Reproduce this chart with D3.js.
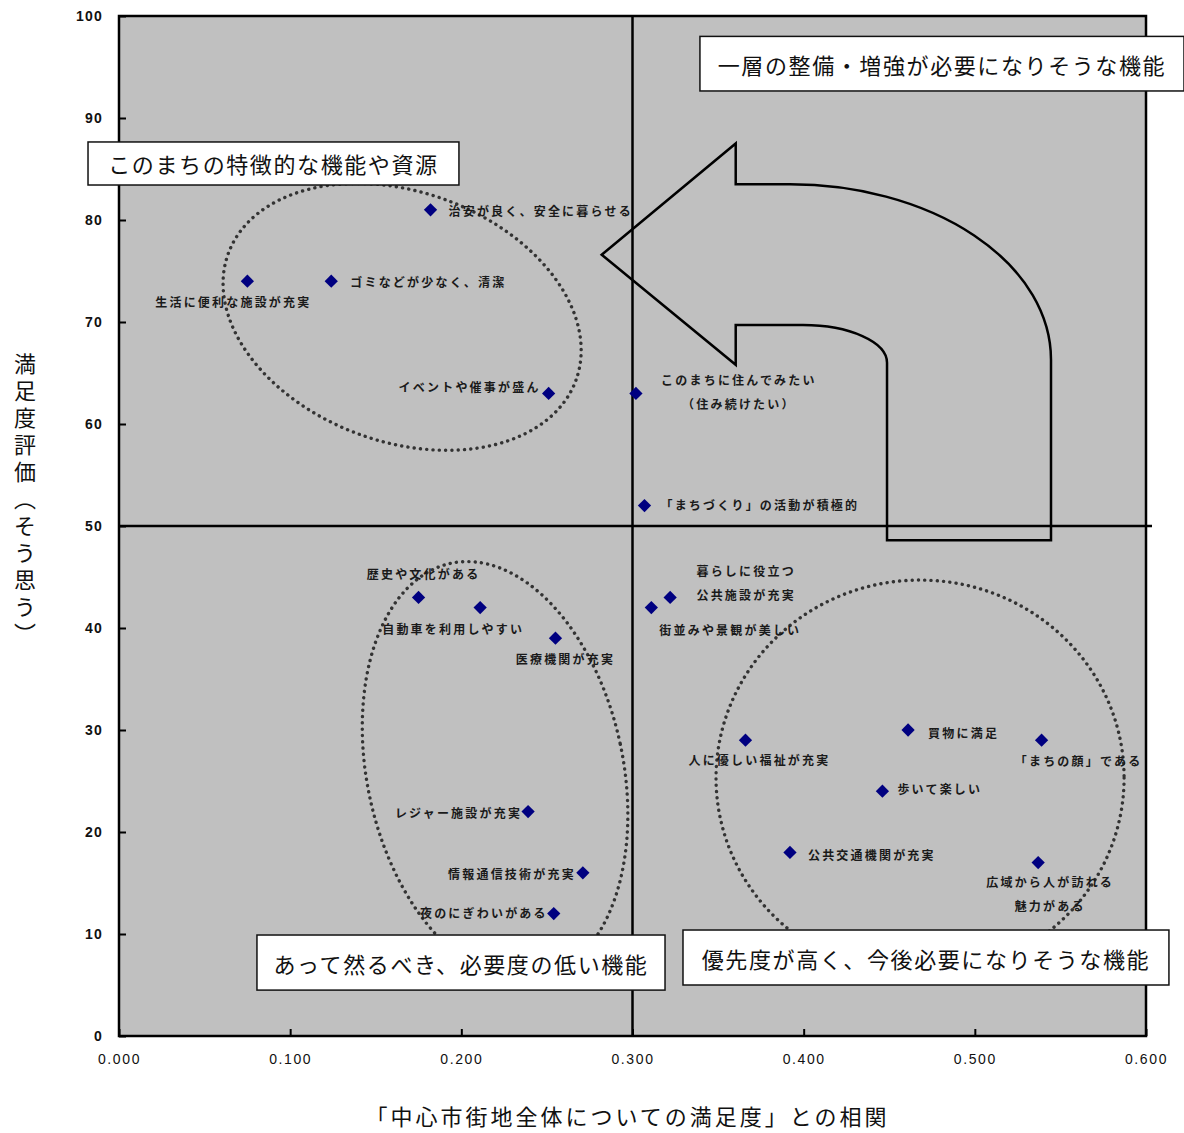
<!DOCTYPE html>
<html>
<head>
<meta charset="utf-8">
<script src="https://cdn.jsdelivr.net/npm/d3@7"></script>
<style>
    body { margin: 0; background: #fff; }
    svg { display: block; }
    .pt-label { font-family: "Noto Sans CJK JP", sans-serif; font-size: 12px; font-weight: bold; letter-spacing: 2.2px; fill: #1a1a1a; }
    .box-text { font-family: "Noto Sans CJK JP", sans-serif; font-size: 22px; letter-spacing: 1.6px; fill: #111; }
    .tick text { font-family: "Liberation Sans", Arial, sans-serif; fill: #111; }
</style>
</head>
<body>
<svg id="chart" width="1184" height="1133"></svg>
<script>
// Items and values
const items = [
    "治安が良く、安全に暮らせる",
    "生活に便利な施設が充実",
    "ゴミなどが少なく、清潔",
    "イベントや催事が盛ん",
    "このまちに住んでみたい\n（住み続けたい）",
    "「まちづくり」の活動が積極的",
    "歴史や文化がある",
    "自動車を利用しやすい",
    "医療機関が充実",
    "暮らしに役立つ\n公共施設が充実",
    "街並みや景観が美しい",
    "レジャー施設が充実",
    "情報通信技術が充実",
    "夜のにぎわいがある",
    "人に優しい福祉が充実",
    "買物に満足",
    "「まちの顔」である",
    "歩いて楽しい",
    "公共交通機関が充実",
    "広域から人が訪れる\n魅力がある"
];
const correlation = [0.182, 0.075, 0.124, 0.251, 0.302, 0.307, 0.175, 0.211, 0.255, 0.322,
                     0.311, 0.239, 0.271, 0.254, 0.366, 0.461, 0.539, 0.446, 0.392, 0.537];
const satisfaction = [81, 74, 74, 63, 63, 52, 43, 42, 39, 43,
                      42, 22, 16, 12, 29, 30, 29, 24, 18, 17];

const xTicks = [0, 0.1, 0.2, 0.3, 0.4, 0.5, 0.6];
const yTicks = [0, 10, 20, 30, 40, 50, 60, 70, 80, 90, 100];

const xTitle = "「中心市街地全体についての満足度」との相関";
const yTitle = "満足度評価（そう思う）";

// label placement: [dx, dy, anchor] in pixels from the point
const labelPlace = [
    [18, 0, "start"], [-14, 20, "middle"], [19, 0, "start"], [-8, -7, "end"],
    [103, -14, "middle"], [16, -2, "start"], [5, -24, "middle"], [-27, 20, "middle"],
    [10, 20, "middle"], [76, -27, "middle"], [79, 21, "middle"], [-6, 0, "end"],
    [-7, 0, "end"], [-6, -2, "end"], [14, 19, "middle"], [20, 2, "start"],
    [37, 20, "middle"], [15, -3, "start"], [18, 2, "start"], [12, 18, "middle"]
];

// dotted group ellipses (centre in data units, radii in data units, rotation deg)
const groups = [
    { cx: 0.1654, cy: 70.5, rx: 0.1081, ry: 12.25, rot: 20 },
    { cx: 0.2197, cy: 26.0, rx: 0.0748, ry: 20.8, rot: -12 },
    { cx: 0.468, cy: 25.3, rx: 0.1192, ry: 19.4, rot: 0 }
];

// quadrant captions (corners in data units)
const captions = [
    { text: "一層の整備・増強が必要になりそうな機能", x0: 0.3394, y0: 98.0, x1: 0.6222, y1: 92.65 },
    { text: "このまちの特徴的な機能や資源", x0: -0.0181, y0: 87.65, x1: 0.1986, y1: 83.43 },
    { text: "あって然るべき、必要度の低い機能", x0: 0.0806, y0: 9.9, x1: 0.319, y1: 4.5 },
    { text: "優先度が高く、今後必要になりそうな機能", x0: 0.3295, y0: 10.39, x1: 0.6134, y1: 5.0 }
];

const W = 1184, H = 1133;
const margin = { top: 16, right: 38, bottom: 97, left: 119 };

const svg = d3.select("#chart");
const x = d3.scaleLinear().domain([0, 0.6]).range([margin.left, W - margin.right]);
const y = d3.scaleLinear().domain([0, 100]).range([H - margin.bottom, margin.top]);

// Plot background
svg.append("rect")
    .attr("x", x(0)).attr("y", y(100))
    .attr("width", x(0.6) - x(0)).attr("height", y(0) - y(100))
    .attr("fill", "#c0c0c0");

// Quadrant dividers
svg.append("line")
    .attr("x1", x(0.3)).attr("x2", x(0.3))
    .attr("y1", y(100)).attr("y2", y(0))
    .attr("stroke", "#000").attr("stroke-width", 2.5);
svg.append("line")
    .attr("x1", x(0)).attr("x2", x(0.6) + 6)
    .attr("y1", y(50)).attr("y2", y(50))
    .attr("stroke", "#000").attr("stroke-width", 2.5);

// Group ellipses
svg.append("g").selectAll("ellipse")
    .data(groups)
    .join("ellipse")
    .attr("cx", 0).attr("cy", 0)
    .attr("rx", d => x(d.rx) - x(0))
    .attr("ry", d => y(0) - y(d.ry))
    .attr("transform", d => `translate(${x(d.cx)},${y(d.cy)}) rotate(${d.rot})`)
    .attr("fill", "none")
    .attr("stroke", "#333")
    .attr("stroke-width", 3.4)
    .attr("stroke-linecap", "round")
    .attr("stroke-dasharray", "0.1 6.2");

// Big curved arrow (upper right -> upper left)
function arrowPath() {
    const tip = [x(0.282), y(76.6)];
    const headX = x(0.3603);
    const outerY = y(83.5), innerY = y(69.7);
    const outerBendX = x(0.392), outerRightX = x(0.5445), outerBendY = y(66.3);
    const innerBendX = x(0.3996), innerRightX = x(0.4487), innerBendY = y(66.0);
    const bottomY = y(48.6);
    const orx = outerRightX - outerBendX, ory = outerBendY - outerY;
    const irx = innerRightX - innerBendX, iry = innerBendY - innerY;
    return [
        `M${tip[0]},${tip[1]}`,
        `L${headX},${y(87.5)}`,
        `L${headX},${outerY}`,
        `L${outerBendX},${outerY}`,
        `A${orx},${ory} 0 0 1 ${outerRightX},${outerBendY}`,
        `L${outerRightX},${bottomY}`,
        `L${innerRightX},${bottomY}`,
        `L${innerRightX},${innerBendY}`,
        `A${irx},${iry} 0 0 0 ${innerBendX},${innerY}`,
        `L${headX},${innerY}`,
        `L${headX},${y(65.8)}`,
        "Z"
    ].join(" ");
}
svg.append("path")
    .attr("d", arrowPath())
    .attr("fill", "none")
    .attr("stroke", "#000")
    .attr("stroke-width", 2.5)
    .attr("stroke-linejoin", "miter");

// Points
const points = items.map((name, i) => ({ name, cx: correlation[i], cy: satisfaction[i], place: labelPlace[i] }));
const diamond = d3.symbol().type(d3.symbolSquare).size(88);
svg.append("g").selectAll("path")
    .data(points)
    .join("path")
    .attr("d", diamond)
    .attr("transform", d => `translate(${x(d.cx)},${y(d.cy)}) rotate(45)`)
    .attr("fill", "#000080");

// Point labels
const labels = svg.append("g").selectAll("text")
    .data(points)
    .join("text")
    .attr("class", "pt-label")
    .attr("text-anchor", d => d.place[2])
    .attr("x", d => x(d.cx) + d.place[0])
    .attr("y", d => y(d.cy) + d.place[1])
    .attr("dominant-baseline", "central");
labels.selectAll("tspan")
    .data(d => d.name.split("\n").map((t, k) => ({ t, k, d })))
    .join("tspan")
    .attr("x", o => x(o.d.cx) + o.d.place[0])
    .attr("dy", o => o.k === 0 ? 0 : 24)
    .text(o => o.t);

// Plot frame
svg.append("rect")
    .attr("x", x(0)).attr("y", y(100))
    .attr("width", x(0.6) - x(0)).attr("height", y(0) - y(100))
    .attr("fill", "none")
    .attr("stroke", "#000").attr("stroke-width", 2.5);

// Axes with inward ticks
const yAxis = svg.append("g")
    .attr("transform", `translate(${x(0)},0)`)
    .call(d3.axisLeft(y).tickValues(yTicks).tickSize(-7).tickPadding(16).tickFormat(d3.format("d")));
yAxis.select(".domain").remove();
yAxis.selectAll(".tick line").attr("stroke", "#000").attr("stroke-width", 2);
yAxis.selectAll(".tick text")
    .attr("font-size", 14).attr("font-weight", "bold").attr("letter-spacing", 1.2);

const xAxis = svg.append("g")
    .attr("transform", `translate(0,${y(0)})`)
    .call(d3.axisBottom(x).tickValues(xTicks).tickSize(-7).tickPadding(18).tickFormat(d3.format(".3f")));
xAxis.select(".domain").remove();
xAxis.selectAll(".tick line").attr("stroke", "#000").attr("stroke-width", 2);
xAxis.selectAll(".tick text")
    .attr("font-size", 14).attr("letter-spacing", 1.6);

// Axis titles
svg.append("text")
    .attr("x", (x(0) + x(0.6)) / 2 - 5)
    .attr("y", H - 8)
    .attr("text-anchor", "middle")
    .attr("font-family", "Noto Sans CJK JP, sans-serif")
    .attr("font-size", 22)
    .attr("letter-spacing", 3)
    .attr("fill", "#111")
    .text(xTitle);

svg.append("text")
    .attr("x", 25)
    .attr("y", y(52.4))
    .attr("text-anchor", "middle")
    .attr("font-family", "Noto Sans CJK JP, sans-serif")
    .attr("font-size", 22)
    .attr("letter-spacing", 5)
    .attr("fill", "#111")
    .style("writing-mode", "vertical-rl")
    .text(yTitle);

// Quadrant caption boxes
const cap = svg.append("g").selectAll("g")
    .data(captions)
    .join("g");
cap.append("rect")
    .attr("x", d => x(d.x0)).attr("y", d => y(d.y0))
    .attr("width", d => x(d.x1) - x(d.x0))
    .attr("height", d => y(d.y1) - y(d.y0))
    .attr("fill", "#fff")
    .attr("stroke", "#111")
    .attr("stroke-width", 1.5);
cap.append("text")
    .attr("class", "box-text")
    .attr("x", d => (x(d.x0) + Math.min(x(d.x1), W)) / 2)
    .attr("y", d => (y(d.y0) + y(d.y1)) / 2)
    .attr("text-anchor", "middle")
    .attr("dominant-baseline", "central")
    .text(d => d.text);
</script>
</body>
</html>
